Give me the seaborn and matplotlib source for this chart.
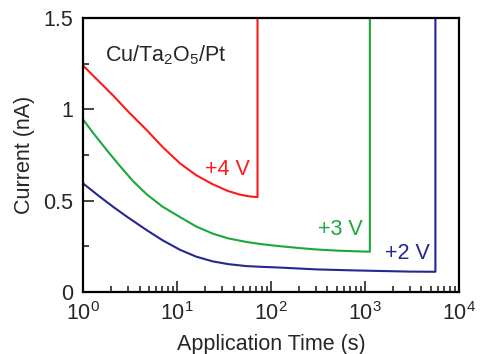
import numpy as np
import pandas as pd
import matplotlib
matplotlib.use("Agg")
import matplotlib.pyplot as plt
import matplotlib.ticker as mticker
import seaborn as sns

# Current transients under constant bias, ending in the abrupt set jump
t_4v = [1, 1.5, 2.1, 3, 4.76, 7, 10.8, 16, 24, 35, 47, 60, 72, 72]
i_4v = [1.24, 1.15, 1.075, 0.99, 0.887, 0.795, 0.704, 0.64, 0.59, 0.553,
        0.533, 0.523, 0.52, 1.6]

t_3v = [1, 1.3, 1.79, 2.5, 3.4, 4.76, 7, 10.8, 16, 24, 35, 55, 80, 125,
        200, 306, 500, 800, 1130, 1130]
i_3v = [0.945, 0.867, 0.777, 0.687, 0.608, 0.535, 0.468, 0.41, 0.359, 0.32,
        0.294, 0.274, 0.262, 0.251, 0.241, 0.233, 0.227, 0.223, 0.221, 1.6]

t_2v = [1, 1.5, 2.1, 3, 4.76, 7, 10.8, 16, 24, 35, 55, 80, 125, 306, 700,
        1566, 3000, 5630, 5630]
i_2v = [0.595, 0.523, 0.466, 0.409, 0.339, 0.284, 0.231, 0.194, 0.168, 0.153,
        0.142, 0.138, 0.134, 0.124, 0.119, 0.115, 0.112, 0.111, 1.6]

series = ["+4 V", "+3 V", "+2 V"]
colors = ["#ff1a1a", "#1aa83a", "#262690"]

x_ticks = [1, 10, 100, 1000, 10000]
x_tick_labels = ["10$^{0}$", "10$^{1}$", "10$^{2}$", "10$^{3}$", "10$^{4}$"]
y_ticks = [0, 0.5, 1, 1.5]
y_tick_labels = ["0", "0.5", "1", "1.5"]

frames = []
for name, t, i in zip(series, [t_4v, t_3v, t_2v], [i_4v, i_3v, i_2v]):
    frames.append(pd.DataFrame({"time": t, "current": i, "bias": name}))
df = pd.concat(frames, ignore_index=True)

sns.set_style("ticks")
plt.rcParams["font.family"] = ["Liberation Sans", "DejaVu Sans"]
plt.rcParams["mathtext.default"] = "regular"

FS = 15.5

fig = plt.figure(figsize=(4.84, 3.54), dpi=100)
ax = fig.add_axes([0.1715, 0.175, 0.7765, 0.774])

sns.lineplot(data=df, x="time", y="current", hue="bias", palette=colors,
             hue_order=series, sort=False, estimator=None, units="bias",
             linewidth=1.5, legend=False, ax=ax)

ax.set_xscale("log")
ax.set_xlim(1, 1e4)
ax.set_ylim(0, 1.5)

ax.set_xticks(x_ticks)
ax.set_xticklabels(x_tick_labels)
ax.xaxis.set_minor_locator(mticker.LogLocator(base=10, subs=np.arange(2, 10), numticks=20))
ax.xaxis.set_minor_formatter(mticker.NullFormatter())
ax.set_yticks(y_ticks)
ax.set_yticklabels(y_tick_labels)
ax.yaxis.set_minor_locator(mticker.FixedLocator([0.25, 0.75, 1.25]))

ax.tick_params(which="major", direction="in", length=8, width=1.2,
               labelsize=FS, top=False, right=False)
ax.tick_params(axis="x", which="major", pad=7.5)
ax.tick_params(axis="y", which="major", pad=7)
ax.tick_params(which="minor", direction="in", length=4.5, width=1.2,
               top=False, right=False)
for s in ax.spines.values():
    s.set_visible(True)
    s.set_linewidth(1.6)
    s.set_color("black")

ax.set_xlabel("Application Time (s)", fontsize=FS, labelpad=6)
ax.set_ylabel("Current (nA)", fontsize=FS, labelpad=6)

ax.text(1.71, 1.297, "Cu/Ta$_2$O$_5$/Pt", fontsize=FS, ha="left", va="center")
ax.text(60, 0.673, "+4 V", color=colors[0], fontsize=FS, ha="right", va="center")
ax.text(960, 0.342, "+3 V", color=colors[1], fontsize=FS, ha="right", va="center")
ax.text(4950, 0.211, "+2 V", color=colors[2], fontsize=FS, ha="right", va="center")

fig.savefig("out.png", dpi=100)
